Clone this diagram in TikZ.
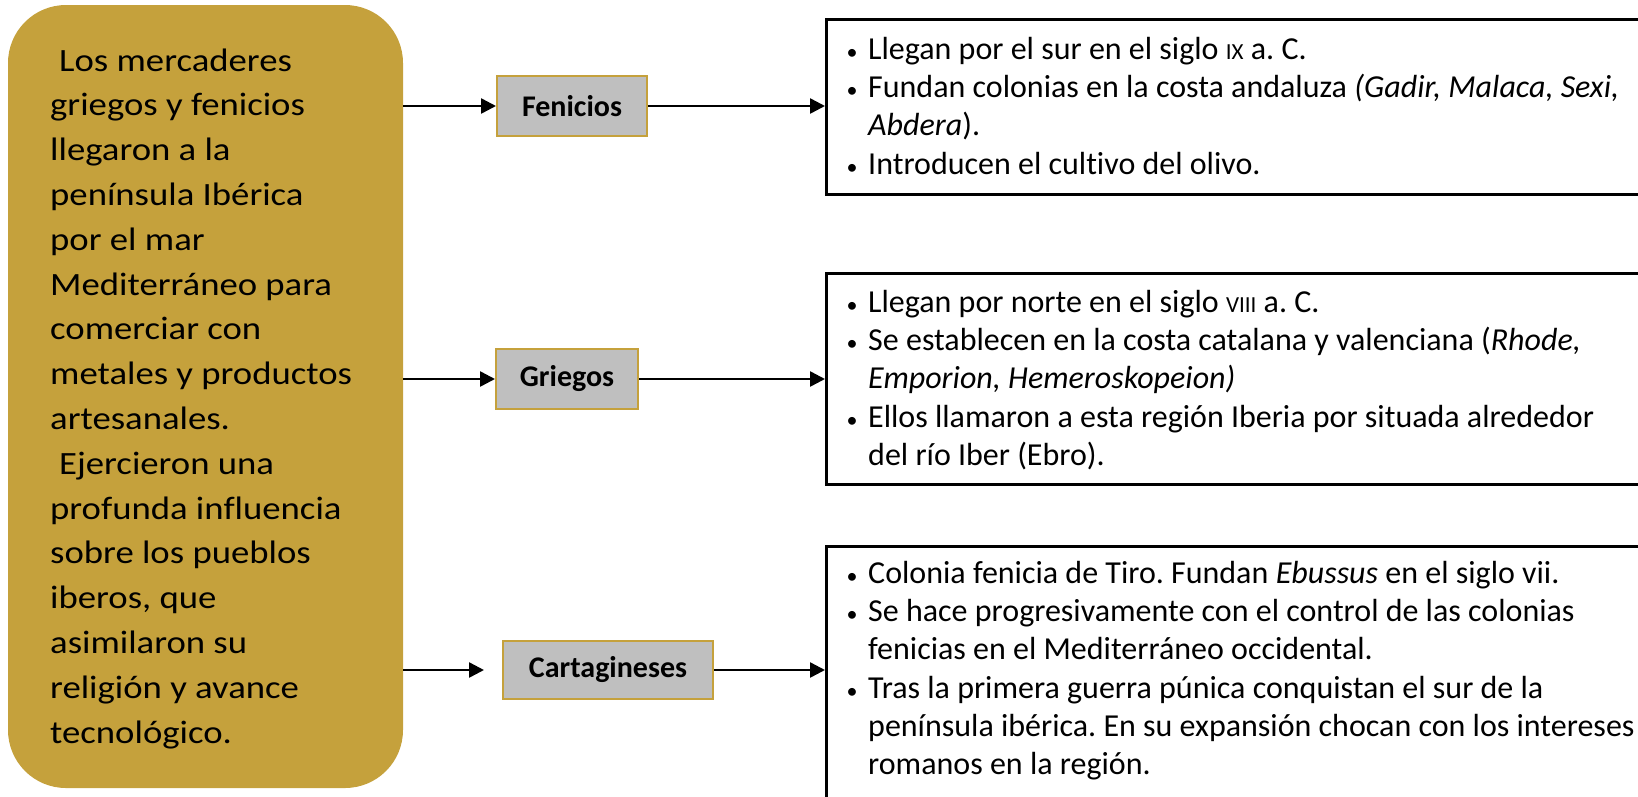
\documentclass[tikz,border=0pt]{standalone}
\usepackage{fontspec}
\setmainfont{Carlito}[Ligatures=NoCommon]
\newfontfamily\leftfont[FakeStretch=1.13,Ligatures=NoCommon]{Carlito}
\usetikzlibrary{arrows.meta}
\definecolor{gold}{RGB}{197,161,60}
\definecolor{lblgray}{RGB}{191,191,191}
\newcommand{\bul}{\makebox[4pt][c]{\fontsize{22}{22}\selectfont •}\hspace{14pt}}
\newcommand{\ind}{\hspace*{18pt}}
\newcommand{\fsc}[1]{{\fontsize{23}{38.3}\selectfont #1}}
\frenchspacing
\tikzset{
  mainbox/.style={rectangle, rounded corners=58pt, fill=gold, draw=none, inner sep=0pt},
  lblbox/.style={rectangle, fill=lblgray, draw=gold, line width=2pt, inner sep=0pt,
    font={\bfseries\fontsize{30}{36}\selectfont}},
  rbox/.style={rectangle, draw=black, line width=2.8pt, inner sep=0pt, anchor=north west},
  rtext/.style={anchor=north west, inner sep=0pt, align=left,
    font={\frenchspacing\fontsize{32}{38.3}\selectfont}},
  arr/.style={line width=2.5pt, -{Triangle[length=15pt,width=15pt]}}
}
\begin{document}
\begin{tikzpicture}[x=1pt,y=-1pt]
\useasboundingbox (0,0) rectangle (1638,796);
\clip (0,0) rectangle (1638,796);
% main rounded box
\node[mainbox, minimum width=395pt, minimum height=783pt] (main) at (205.5,396.5) {};
\node[anchor=north west, inner sep=0pt, align=left,
  font={\leftfont\fontsize{32.5}{44.8}\selectfont}] (maintext) at (50,39.6)
{\strut\hspace*{9pt}Los mercaderes\\
griegos y fenicios\\
llegaron a la\\
península Ibérica\\
por el mar\\
Mediterráneo para\\
comerciar con\\
metales y productos\\
artesanales.\\
\hspace*{9pt}Ejercieron una\\
profunda influencia\\
sobre los pueblos\\
iberos, que\\
asimilaron su\\
religión y avance\\
tecnológico.};
% labels
\node[lblbox, minimum width=150pt, minimum height=60pt] (fen) at (572,106) {Fenicios};
\node[lblbox, minimum width=142pt, minimum height=60pt] (gri) at (567,379) {Griegos};
\node[lblbox, minimum width=210pt, minimum height=58pt] (car) at (608,670) {Cartagineses};
% right boxes
\node[rbox, minimum width=830pt, minimum height=175pt] (r1) at (825,18) {};
\node[rbox, minimum width=830pt, minimum height=211pt] (r2) at (825,272) {};
\node[rbox, minimum width=830pt, minimum height=260pt] (r3) at (825,545) {};
% right texts
\node[rtext] (t1) at (850,32.2)
{\strut\bul Llegan por el sur en el siglo \fsc{IX} a. C.\\
\bul Fundan colonias en la costa andaluza \textit{(Gadir, Malaca, Sexi,}\\
\ind\textit{Abdera}).\\
\bul Introducen el cultivo del olivo.};
\node[rtext] (t2) at (850,285.2)
{\strut\bul Llegan por norte en el siglo \fsc{VIII} a. C.\\
\bul Se establecen en la costa catalana y valenciana (\textit{Rhode,}\\
\ind\textit{Emporion, Hemeroskopeion)}\\
\bul Ellos llamaron a esta región Iberia por situada alrededor\\
\ind del río Iber (Ebro).};
\node[rtext] (t3) at (850,556.2)
{\strut\bul Colonia fenicia de Tiro. Fundan \textit{Ebussus} en el siglo vii.\\
\bul Se hace progresivamente con el control de las colonias\\
\ind fenicias en el Mediterráneo occidental.\\
\bul Tras la primera guerra púnica conquistan el sur de la\\
\ind península ibérica. En su expansión chocan con los intereses\\
\ind romanos en la región.};
% connectors
\draw[arr] (main.east |- fen) -- (fen.west);
\draw[arr] (main.east |- gri) -- (gri.west);
\draw[arr] (main.east |- car) -- ([xshift=-18pt]car.west);
\draw[arr] (fen.east) -- (fen.east -| r1.west);
\draw[arr] (gri.east) -- (gri.east -| r2.west);
\draw[arr] (car.east) -- (car.east -| r3.west);
\end{tikzpicture}
\end{document}
